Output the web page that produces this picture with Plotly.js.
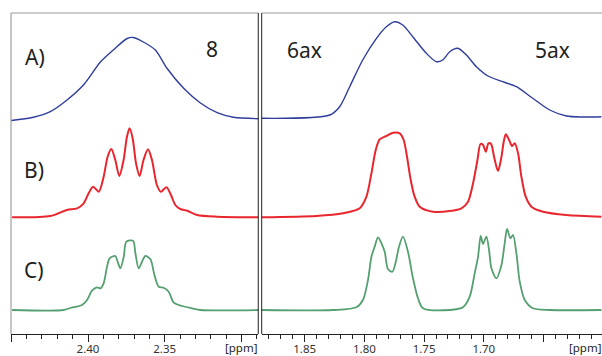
<!DOCTYPE html>
<html>
<head>
<meta charset="utf-8">
<script src="https://cdn.plot.ly/plotly-3.0.1.min.js"></script>
<style>html,body{margin:0;padding:0;background:#fff;}#chart{width:602px;height:356px;}</style>
</head>
<body>
<div id="chart"></div>
<script>
// ---- Data (chemical shift in ppm, intensity in arbitrary units) ----
// Left window (signal 8)
const ppmA_L = [2.450, 2.4356, 2.4246, 2.4137, 2.4030, 2.3919, 2.3835, 2.3745, 2.3704, 2.3639, 2.3561, 2.3484, 2.3378, 2.3267, 2.3158, 2.3052, 2.2884];
const intA_L = [-1.5, 1.7, 7.3, 19, 34, 57, 69, 80.5, 81.5, 77, 69, 50.5, 31, 16, 6.3, 1.7, 0.3];

const ppmB_L = [2.4495, 2.4246, 2.4137, 2.4071, 2.4028, 2.3996, 2.3967, 2.3930, 2.3898, 2.3872, 2.3848, 2.3822, 2.3796, 2.3768, 2.3746, 2.3729, 2.3709, 2.3687, 2.3664, 2.3638, 2.3609, 2.3583, 2.3551, 2.3525, 2.3489, 2.3459, 2.3431, 2.3398, 2.3354, 2.3289, 2.3158, 2.2884];
const intB_L = [0, 1.3, 7.3, 9, 14, 24, 30.6, 25.6, 40.6, 60.6, 68.3, 57.3, 41.3, 57.3, 80.6, 89, 79, 54, 41.3, 57.3, 68, 57.3, 32.3, 25.6, 30, 22.3, 12.3, 8.3, 6.6, 2.3, 0.6, 0];

const ppmC_L = [2.4495, 2.4159, 2.4115, 2.4039, 2.4006, 2.3974, 2.3941, 2.3919, 2.3898, 2.3876, 2.3859, 2.3822, 2.3807, 2.3789, 2.3767, 2.3750, 2.3706, 2.3691, 2.3670, 2.3648, 2.3626, 2.3593, 2.3567, 2.3539, 2.3507, 2.3474, 2.3441, 2.3387, 2.3321, 2.3267, 2.2884];
const intC_L = [0, 0, 2, 5, 10, 19.3, 22.7, 21.7, 26.7, 43.3, 51.7, 54, 48.3, 41.7, 53.3, 68.3, 69.3, 56.7, 41.7, 48.3, 54, 50.7, 35, 23.3, 22.3, 18.3, 7.3, 4, 1.7, 0, 0];

// Right window (signals 6ax and 5ax)
const ppmA_R = [1.8862, 1.8290, 1.8207, 1.8123, 1.8014, 1.7899, 1.7816, 1.7746, 1.7679, 1.7595, 1.7481, 1.7397, 1.7344, 1.7285, 1.7218, 1.7146, 1.7062, 1.6965, 1.6842, 1.6727, 1.6590, 1.6448, 1.6308, 1.6172, 1.6015];
const intA_R = [0.7, 4, 12.3, 32.3, 59, 80.7, 92.3, 97.3, 94, 82.3, 65.7, 57.3, 59, 67.3, 70.7, 64, 52.3, 43, 37.3, 32.3, 20.7, 9, 3, 2, 2.3];

const ppmB_R = [1.8862, 1.8402, 1.8179, 1.8039, 1.7983, 1.7941, 1.7905, 1.7872, 1.7816, 1.7760, 1.7704, 1.7671, 1.7643, 1.7612, 1.7579, 1.7537, 1.7425, 1.7285, 1.7187, 1.7132, 1.7090, 1.7053, 1.7028, 1.7006, 1.6983, 1.6961, 1.6939, 1.6914, 1.6881, 1.6852, 1.6833, 1.6816, 1.6788, 1.6763, 1.6741, 1.6713, 1.6685, 1.6649, 1.6601, 1.6504, 1.6308, 1.6015];
const intB_R = [0, 1.3, 4, 9, 20.6, 44, 67.3, 78, 81.3, 84.6, 84, 77.3, 60.6, 37.3, 20.6, 10.6, 5.6, 6.3, 9, 15.6, 34, 57.3, 73.3, 72.3, 65.6, 74, 73.3, 60.6, 46.3, 60.6, 75.6, 83, 77.3, 71.3, 74, 64, 40.6, 20.6, 10.6, 5.6, 2.3, 0.6];

const ppmC_R = [1.8862, 1.8263, 1.8067, 1.8012, 1.7970, 1.7941, 1.7914, 1.7886, 1.7857, 1.7830, 1.7802, 1.7765, 1.7740, 1.7710, 1.7677, 1.7635, 1.7593, 1.7551, 1.7509, 1.7285, 1.7174, 1.7118, 1.7076, 1.7048, 1.7026, 1.7006, 1.6978, 1.6956, 1.6936, 1.6894, 1.6852, 1.6825, 1.6805, 1.6777, 1.6755, 1.6727, 1.6699, 1.6657, 1.6588, 1.6448, 1.6015];
const intC_R = [0, 0, 2.7, 10, 30, 53.3, 63.3, 72.7, 66.7, 58.3, 40.7, 38.3, 46.7, 63.3, 73.3, 58.3, 31.7, 11.7, 1.7, 0, 2.7, 13.3, 36.7, 53.3, 74, 66, 73.3, 60, 41.7, 31.7, 45, 66.7, 81, 71.7, 75, 56.7, 28.3, 10, 1.7, 0, 0];

// Axis tick labels
const tickValsL = [2.45, 2.40, 2.35, 2.30];
const tickTextL = ['', '2.40', '2.35', ''];
const tickValsR = [1.85, 1.80, 1.75, 1.70, 1.65];
const tickTextR = ['1.85', '1.80', '1.75', '1.70', ''];
const rowLabels = ['A)', 'B)', 'C)'];
const signalLabels = ['8', '6ax', '5ax'];
const unitLabel = '[ppm]';

// ---- Styles ----
const colA = '#2f3d9c', colB = '#e8262d', colC = '#55a070';
const wA = 1.4, wB = 2.0, wC = 1.8;
const font = '"Noto Sans", "Open Sans", sans-serif';
const txt = '#231f20';

function tr(x, y, xa, ya, color, w) {
  return {x: x, y: y, xaxis: xa, yaxis: ya, type: 'scatter', mode: 'lines',
          line: {color: color, width: w, shape: 'spline', smoothing: 0.8},
          hoverinfo: 'skip', showlegend: false};
}

const traces = [
  tr(ppmA_L, intA_L, 'x', 'y', colA, wA),
  tr(ppmB_L, intB_L, 'x', 'y2', colB, wB),
  tr(ppmC_L, intC_L, 'x', 'y3', colC, wC),
  tr(ppmA_R, intA_R, 'x2', 'y4', colA, wA),
  tr(ppmB_R, intB_R, 'x2', 'y5', colB, wB),
  tr(ppmC_R, intC_R, 'x2', 'y6', colC, wC)
];

const dL = [0, 0.4184], dR = [0.4242, 1];
function xax(domain, range, vals, text, anchor) {
  return {domain: domain, range: range, anchor: anchor, tickmode: 'array', tickvals: vals, ticktext: text,
          ticks: 'outside', ticklen: 7, tickwidth: 1, tickcolor: '#222',
          showline: true, linecolor: '#222', linewidth: 1, showgrid: false, zeroline: false,
          ticklabelstandoff: -3,
          tickfont: {family: font, size: 11.5, color: '#333'},
          minor: {dtick: 0.01, tick0: 0, ticks: 'outside', ticklen: 4, tickcolor: '#222', showgrid: false}};
}
function yax(range, anchor, overlay) {
  const a = {range: range, anchor: anchor, visible: false, showgrid: false, zeroline: false, fixedrange: true};
  if (overlay) a.overlaying = overlay;
  return a;
}

const ann = [];
function lab(text, x, y, xanchor, size) {
  ann.push({text: text, xref: 'paper', yref: 'paper', x: x, y: y, xanchor: xanchor || 'center', yanchor: 'middle',
            showarrow: false, borderpad: 0, font: {family: font, size: size || 21, color: txt}});
}
lab(rowLabels[0], 0.0406, 0.863);
lab(rowLabels[1], 0.0389, 0.511);
lab(rowLabels[2], 0.0389, 0.199);
lab(signalLabels[0], 0.340, 0.888);
lab(signalLabels[1], 0.4958, 0.885);
lab(signalLabels[2], 0.917, 0.885);
lab(unitLabel, dL[1], -0.043, 'right', 11.5);
lab(unitLabel, dR[1], -0.043, 'right', 11.5);

function ln(x0, y0, x1, y1, c) {
  return {type: 'line', xref: 'paper', yref: 'paper', x0: x0, y0: y0, x1: x1, y1: y1, line: {color: c, width: 1}};
}
const shapes = [
  ln(0, 0, 0, 1, '#8a8a8a'),
  ln(0, 1, dL[1], 1, '#9a9a9a'),
  ln(dL[1], 0, dL[1], 1, '#222'),
  ln(dR[0], 0, dR[0], 1, '#222'),
  ln(dR[0], 1, 1, 1, '#9a9a9a')
];

const layout = {
  width: 602, height: 356,
  margin: {l: 11, r: 0, t: 13, b: 22, pad: 0},
  paper_bgcolor: '#fff', plot_bgcolor: 'rgba(0,0,0,0)',
  showlegend: false,
  xaxis: xax(dL, [2.4502, 2.289], tickValsL, tickTextL, 'y'),
  xaxis2: xax(dR, [1.886, 1.601], tickValsR, tickTextR, 'y4'),
  yaxis: yax([-215, 106], 'x'),
  yaxis2: yax([-116.7, 204.3], 'x', 'y'),
  yaxis3: yax([-24, 297], 'x', 'y'),
  yaxis4: yax([-215, 106], 'x2'),
  yaxis5: yax([-116.7, 204.3], 'x2', 'y4'),
  yaxis6: yax([-24, 297], 'x2', 'y4'),
  annotations: ann,
  shapes: shapes
};

Plotly.newPlot('chart', traces, layout, {displayModeBar: false, staticPlot: true});
</script>
</body>
</html>
